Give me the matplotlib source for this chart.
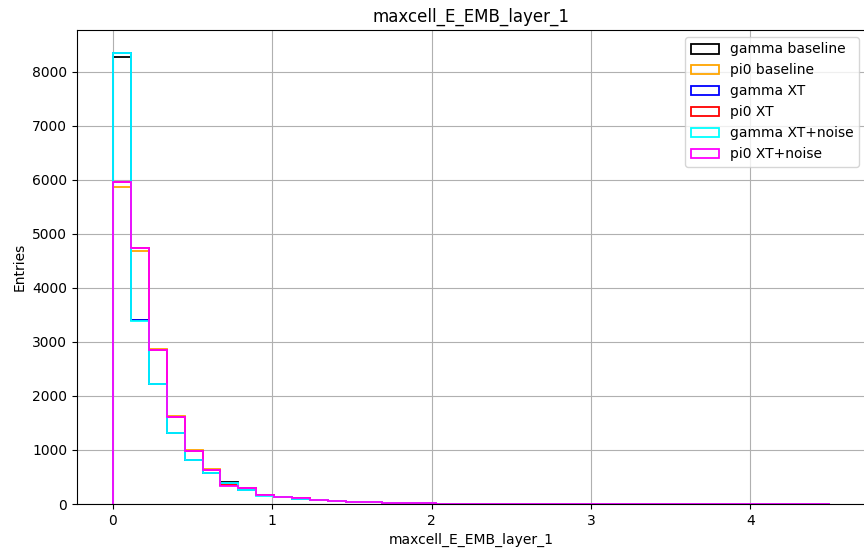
import numpy as np
import matplotlib
matplotlib.use("Agg")
import matplotlib.pyplot as plt

# 40 bins over [0, 4.5]
bin_edges = np.linspace(0, 4.5, 41)

tail_gamma = [100, 70, 50, 38, 28, 20, 15, 11, 8, 6, 5, 4, 3, 3, 2, 2, 1, 1, 1, 1, 1, 0, 0, 0, 0, 0, 0, 0, 0, 0]
tail_pi0 = [105, 72, 52, 40, 30, 22, 16, 12, 9, 7, 5, 4, 3, 3, 2, 2, 1, 1, 1, 1, 1, 0, 0, 0, 0, 0, 0, 0, 0, 0]

gamma_baseline = [8270, 3400, 2220, 1320, 820, 580, 410, 270, 165, 135] + tail_gamma
pi0_baseline = [5870, 4690, 2865, 1635, 995, 650, 355, 295, 172, 138] + tail_pi0
gamma_xt = [8340, 3400, 2212, 1312, 812, 572, 385, 265, 160, 132] + tail_gamma
pi0_xt = [5960, 4735, 2852, 1618, 988, 632, 345, 290, 167, 134] + tail_pi0
gamma_xt_noise = [8355, 3395, 2215, 1315, 815, 568, 380, 262, 155, 130] + tail_gamma
pi0_xt_noise = [5965, 4740, 2845, 1612, 985, 626, 340, 288, 165, 132] + tail_pi0

labels = ["gamma baseline", "pi0 baseline", "gamma XT", "pi0 XT",
          "gamma XT+noise", "pi0 XT+noise"]
colors = ["black", "orange", "blue", "red", "cyan", "magenta"]
series = [gamma_baseline, pi0_baseline, gamma_xt, pi0_xt, gamma_xt_noise, pi0_xt_noise]


def main():
    centers = 0.5 * (bin_edges[:-1] + bin_edges[1:])

    fig = plt.figure(figsize=(8.64, 5.49), dpi=100)
    ax = fig.add_axes([77 / 864, 45 / 549, 789 / 864, 474 / 549])
    for counts, lab, col in zip(series, labels, colors):
        ax.hist(centers, bins=bin_edges, weights=counts, histtype="step",
                color=col, label=lab, linewidth=1.3)
    ax.set_title("maxcell_E_EMB_layer_1")
    ax.set_xlabel("maxcell_E_EMB_layer_1")
    ax.set_ylabel("Entries")
    ax.grid(True)
    ax.set_axisbelow(True)
    ax.legend(loc="upper right")
    fig.savefig("out.png", dpi=100)


if __name__ == "__main__":
    main()
